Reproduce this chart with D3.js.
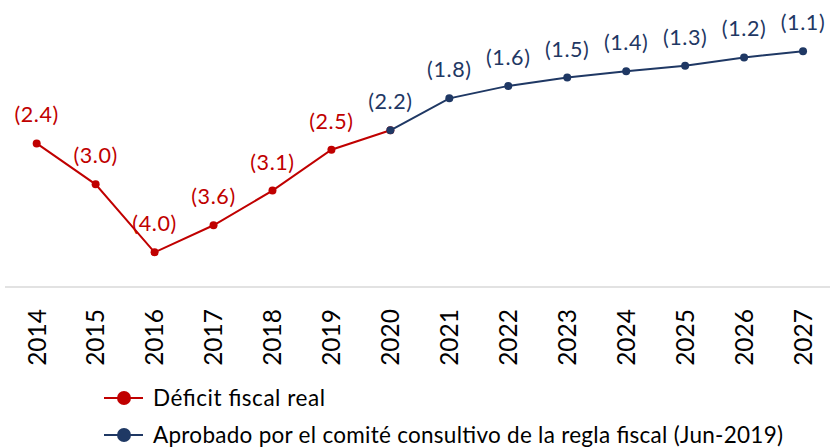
<!DOCTYPE html>
<html>
<head>
<meta charset="utf-8">
<script src="https://cdn.jsdelivr.net/npm/d3@7"></script>
<style>
  html, body { margin: 0; padding: 0; background: #fff; }
  svg { display: block; font-family: Lato, "Open Sans", sans-serif; }
</style>
</head>
<body>
<svg id="chart" width="830" height="448"></svg>
<script>
const years = ["2014","2015","2016","2017","2018","2019","2020","2021","2022","2023","2024","2025","2026","2027"];
const realYears = ["2014","2015","2016","2017","2018","2019","2020"];
const realValues = [-2.43, -3.02, -4.0, -3.61, -3.11, -2.52, -2.24];
const aprobYears = ["2020","2021","2022","2023","2024","2025","2026","2027"];
const aprobValues = [-2.24, -1.78, -1.60, -1.48, -1.39, -1.31, -1.19, -1.10];
const seriesNames = ["Déficit fiscal real", "Aprobado por el comité consultivo de la regla fiscal (Jun-2019)"];
const yDomain = [-4.5, -0.5];

const RED = "#C00000", NAVY = "#1F3864";
const svg = d3.select("#chart");

const x = d3.scalePoint().domain(years).range([7.2, 832.5]).padding(0.5);
const y = d3.scaleLinear().domain(yDomain).range([287, 9.6]);

// axis line
svg.append("line").attr("x1", 5).attr("x2", 830).attr("y1", y(yDomain[0])).attr("y2", y(yDomain[0]))
  .attr("stroke", "#d9d9d9").attr("stroke-width", 1.5);

// year labels
svg.append("g").selectAll("text").data(years).join("text")
  .attr("transform", d => `translate(${x(d)},309) rotate(-90)`)
  .attr("text-anchor", "end").attr("dy", "0.36em")
  .attr("font-size", 24.5).attr("fill", "#000").text(d => d);

const line = d3.line().x(d => x(d[0])).y(d => y(d[1]));
const fmt = v => "(" + d3.format(".1f")(Math.abs(v)) + ")";

function drawSeries(ys, vs, color, labelSkip) {
  const pts = ys.map((yr, i) => [yr, vs[i]]);
  svg.append("path").datum(pts).attr("d", line).attr("fill", "none")
    .attr("stroke", color).attr("stroke-width", 2);
  svg.append("g").selectAll("circle").data(pts).join("circle")
    .attr("cx", d => x(d[0])).attr("cy", d => y(d[1])).attr("r", 4).attr("fill", color);
  svg.append("g").selectAll("text").data(pts.filter(d => !labelSkip.includes(d[0]))).join("text")
    .attr("x", d => x(d[0])).attr("y", d => y(d[1]) - 21)
    .attr("text-anchor", "middle").attr("font-size", 21.5).attr("letter-spacing", 0.6)
    .attr("fill", color)
    .text(d => fmt(d[1]));
}
drawSeries(realYears, realValues, RED, ["2020"]);
drawSeries(aprobYears, aprobValues, NAVY, []);

// legend
const legend = [
  {name: seriesNames[0], color: RED, y: 398, len: 172},
  {name: seriesNames[1], color: NAVY, y: 435, len: 630}
];
const lg = svg.append("g").selectAll("g").data(legend).join("g");
lg.append("line").attr("x1", 104).attr("x2", 143).attr("y1", d => d.y).attr("y2", d => d.y)
  .attr("stroke", d => d.color).attr("stroke-width", 2);
lg.append("circle").attr("cx", 124).attr("cy", d => d.y).attr("r", 7).attr("fill", d => d.color);
lg.append("text").attr("x", 153).attr("y", d => d.y).attr("dy", "0.36em")
  .attr("font-size", 22.5).attr("fill", "#000")
  .attr("textLength", d => d.len).attr("lengthAdjust", "spacing")
  .text(d => d.name);
</script>
</body>
</html>
